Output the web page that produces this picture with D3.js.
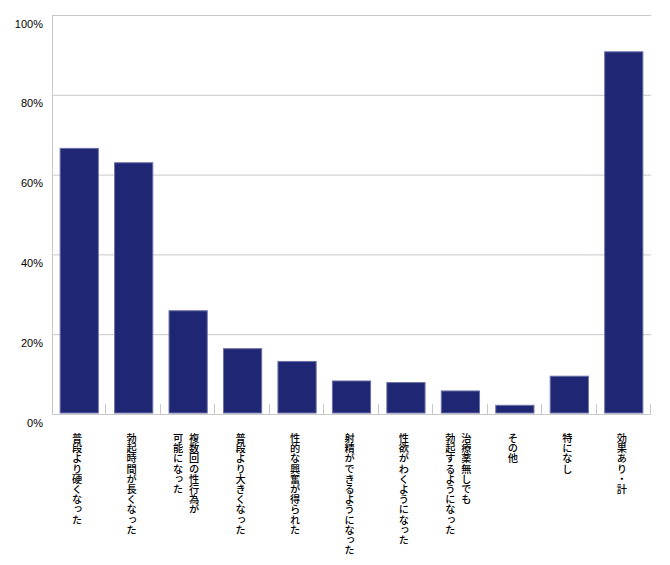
<!DOCTYPE html>
<html>
<head>
<meta charset="utf-8">
<script src="https://cdn.jsdelivr.net/npm/d3@7"></script>
<style>
  body { margin: 0; background: #fff; }
  svg { display: block; }
</style>
</head>
<body>
<div id="chart"></div>
<script>
const categories = [
  ["普段より硬くなった"],
  ["勃起時間が長くなった"],
  ["複数回の性行為が", "可能になった"],
  ["普段より大きくなった"],
  ["性的な興奮が得られた"],
  ["射精ができるようになった"],
  ["性欲がわくようになった"],
  ["治療薬無しでも", "勃起するようになった"],
  ["その他"],
  ["特になし"],
  ["効果あり・計"]
];
const values = [66.7, 63.1, 26.0, 16.5, 13.3, 8.4, 8.0, 5.9, 2.3, 9.6, 90.9];
const yTicks = [0, 20, 40, 60, 80, 100];

const W = 670, H = 565;
const m = { left: 52, right: 651, top: 15, bottom: 414 };

const svg = d3.select("#chart").append("svg").attr("width", W).attr("height", H);

const x = d3.scaleBand()
  .domain(d3.range(categories.length))
  .range([m.left, m.right])
  .paddingInner(0.28)
  .paddingOuter(0.14);
const y = d3.scaleLinear().domain([0, 100]).range([m.bottom, m.top]);

const gridColor = "#c9c9c9";

// gridlines
svg.append("g").selectAll("line").data(yTicks.filter(d => d > 0)).join("line")
  .attr("x1", m.left).attr("x2", m.right)
  .attr("y1", d => y(d) + 0.5).attr("y2", d => y(d) + 0.5)
  .attr("stroke", gridColor).attr("stroke-width", 1);

// y labels
svg.append("g").selectAll("text").data(yTicks).join("text")
  .attr("x", 43).attr("y", d => y(d) + 12.5)
  .attr("text-anchor", "end")
  .attr("font-family", "'Liberation Sans', Arial, sans-serif")
  .attr("font-size", 11)
  .attr("fill", "#000")
  .text(d => d + "%");

// bars
svg.append("g").selectAll("rect").data(values).join("rect")
  .attr("x", (d, i) => x(i) + 0.5)
  .attr("y", d => y(d) + 0.5)
  .attr("width", x.bandwidth() - 1)
  .attr("height", d => y(0) - y(d) - 1.5)
  .attr("fill", "#1f2674")
  .attr("stroke", "#6c71a6")
  .attr("stroke-width", 1);

// axis lines
svg.append("line")
  .attr("x1", m.left + 0.5).attr("x2", m.left + 0.5)
  .attr("y1", m.top).attr("y2", m.bottom + 1)
  .attr("stroke", gridColor);
svg.append("line")
  .attr("x1", m.left).attr("x2", m.right)
  .attr("y1", m.bottom + 0.5).attr("y2", m.bottom + 0.5)
  .attr("stroke", gridColor);

// category separator ticks
const step = x.step();
svg.append("g").selectAll("line").data(d3.range(1, categories.length + 1)).join("line")
  .attr("x1", k => Math.round(m.left + step * k) - 0.5)
  .attr("x2", k => Math.round(m.left + step * k) - 0.5)
  .attr("y1", m.bottom - 10).attr("y2", m.bottom)
  .attr("stroke", gridColor);

// category labels (vertical)
const lab = svg.append("g");
categories.forEach((lines, i) => {
  const cx = x(i) + x.bandwidth() / 2;
  const n = lines.length;
  lines.forEach((t, j) => {
    const off = (n - 1) / 2 * 16 - j * 16;
    lab.append("text")
      .attr("x", cx + off - 2)
      .attr("y", 433)
      .attr("writing-mode", "vertical-rl")
      .style("writing-mode", "vertical-rl")
      .attr("font-family", "'Noto Sans CJK JP', sans-serif")
      .attr("font-size", 10.2)
      .attr("font-weight", 500)
      .attr("fill", "#000")
      .text(t);
  });
});
</script>
</body>
</html>
